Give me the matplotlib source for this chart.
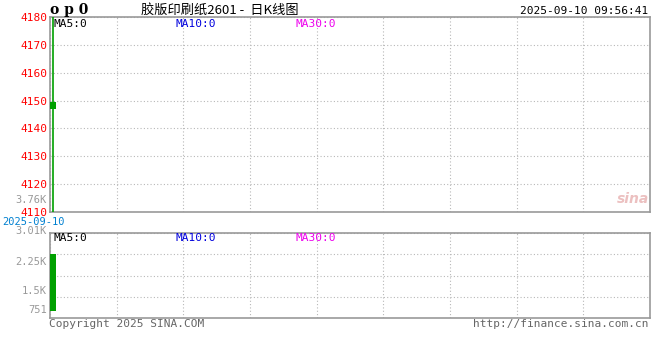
import matplotlib
matplotlib.use("Agg")
import matplotlib.pyplot as plt
import numpy as np

# data
dates = ['2025-09-10']
open_p = [4149.5]
close_p = [4147.0]
high_p = [4180.0]
low_p = [4110.0]
volume = [2260]
vol_base = 250

price_ticks = [4110, 4120, 4130, 4140, 4150, 4160, 4170, 4180]
vol_ticks = [751, 1502, 2253, 3010]
vol_labels = ['751', '1.5K', '2.25K', '3.01K']

W, H = 660, 360
fig = plt.figure(figsize=(6.6, 3.6), dpi=100)
mono = 'DejaVu Sans Mono'
grey = '#999999'
green = '#00a000'


def box(x0, y0, x1, y1):
    return [x0 / W, 1 - y1 / H, (x1 - x0) / W, (y1 - y0) / H]


def ftext(x, y, s, **kw):
    fig.text(x / W, 1 - y / H, s, **kw)


ax = fig.add_axes(box(50, 17, 650, 212))
axv = fig.add_axes(box(50, 233, 650, 318))

x = np.arange(len(dates)) + 0.45

for a in (ax, axv):
    a.set_xlim(0, 90)
    a.set_xticks(np.arange(0, 91, 10))
    a.grid(True, color='#b8b8b8', linestyle=(0, (1, 2)), linewidth=0.8)
    a.tick_params(length=0, labelbottom=False)
    for sp in a.spines.values():
        sp.set_color(grey)
        sp.set_linewidth(1.2)
    a.set_axisbelow(True)

# candle
ax.vlines(x, low_p, high_p, color=green, linewidth=1.2, zorder=3)
ax.bar(x, np.array(open_p) - np.array(close_p), bottom=close_p, width=0.9,
       color=green, zorder=4)
ax.set_ylim(4110, 4180)
ax.set_yticks(price_ticks)
ax.set_yticklabels([str(t) for t in price_ticks], color='#ff0000',
                   fontsize=8, family=mono)
ax.tick_params(axis='y', pad=2)

# volume
axv.bar(x, np.array(volume) - vol_base, bottom=vol_base, width=0.9,
        color=green, zorder=3)
axv.set_ylim(0, 3010)
axv.set_yticks(vol_ticks)
axv.set_yticklabels([])

for lab, yy in zip(vol_labels, [310, 291, 262, 231]):
    ftext(47, yy, lab, color='#999999', fontsize=7.5, family=mono,
          ha='right', va='center')

ftext(47, 200, '3.76K', color='#999999', fontsize=7.5, family=mono,
      ha='right', va='center')
ftext(2, 222, '2025-09-10', color='#0080d0', fontsize=7.5, family=mono,
      va='center')

# header
ftext(50, 10, 'o p 0', fontsize=10, fontweight='bold', family='DejaVu Serif',
      va='center')
ftext(141, 10, '胶版印刷纸2601 -  日K线图', fontsize=9.5,
      family=['Noto Sans CJK SC', 'DejaVu Sans'], va='center')
ftext(648, 11, '2025-09-10 09:56:41', fontsize=8, family=mono,
      ha='right', va='center')

for yy in (24, 238):
    ftext(54, yy, 'MA5:0', color='black', fontsize=8, family=mono, va='center')
    ftext(175, yy, 'MA10:0', color='#0000dd', fontsize=8, family=mono, va='center')
    ftext(295, yy, 'MA30:0', color='#ee00ee', fontsize=8, family=mono, va='center')

# footer
ftext(49, 324, 'Copyright 2025 SINA.COM', color='#666666', fontsize=8,
      family=mono, va='center')
ftext(648, 324, 'http://finance.sina.com.cn', color='#666666', fontsize=8,
      family=mono, ha='right', va='center')

# watermark
ftext(633, 199, 'sina', color='#ecc0c0', fontsize=10, fontweight='bold',
      style='italic', ha='center', va='center')

fig.savefig('out.png', dpi=100)
